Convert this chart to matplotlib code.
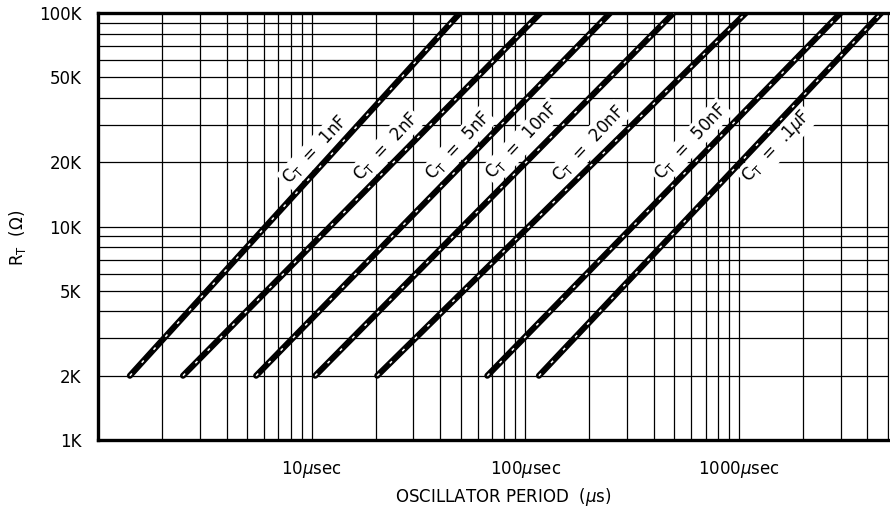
import numpy as np
import matplotlib
matplotlib.use("Agg")
import matplotlib.pyplot as plt
from matplotlib.ticker import FixedLocator, NullFormatter

# ---- data ----
resistance = [2000, 100000]                      # R_T endpoints (ohm)
cap_labels = ["1nF", "2nF", "5nF", "10nF", "20nF", "50nF", r".1$\mu$F"]
period_1nF = [1.41, 49.5]
period_2nF = [2.5, 118]
period_5nF = [5.5, 250]
period_10nF = [10.4, 495]
period_20nF = [20.3, 1080]
period_50nF = [66.5, 3000]
period_100nF = [116, 4650]
periods = [period_1nF, period_2nF, period_5nF, period_10nF,
           period_20nF, period_50nF, period_100nF]
# label anchor positions (period, R)
label_period = [10.4, 22.3, 48.5, 96.8, 197.6, 595, 1507]
label_res = [22800, 23600, 23800, 25100, 24300, 24900, 23600]

x_ticks = [10, 100, 1000]
x_tick_labels = [r"10$\mu$sec", r"100$\mu$sec", r"1000$\mu$sec"]
y_ticks = [1000, 2000, 5000, 10000, 20000, 50000, 100000]
y_tick_labels = ["1K", "2K", "5K", "10K", "20K", "50K", "100K"]

plt.rcParams['font.family'] = ['DejaVu Sans']
plt.rcParams['mathtext.fontset'] = 'dejavusans'

fig = plt.figure(figsize=(8.9, 5.19), dpi=100)
ax = fig.add_axes([98/890, 1-440/519, 790/890, 427/519])
ax.set_xscale('log')
ax.set_yscale('log')
ax.set_xlim(1, 5000)
ax.set_ylim(1000, 100000)

# grid positions
x_minor = [m * 10**e for e in range(0, 4) for m in range(2, 10) if m * 10**e <= 5000]
y_minor = [m * 10**e for e in range(3, 5) for m in range(2, 10)]
ax.xaxis.set_major_locator(FixedLocator(x_ticks))
ax.xaxis.set_minor_locator(FixedLocator(x_minor))
ax.set_xticklabels(x_tick_labels, fontsize=12)
ax.xaxis.set_minor_formatter(NullFormatter())
ax.yaxis.set_major_locator(FixedLocator(y_ticks))
ax.yaxis.set_minor_locator(FixedLocator(y_minor))
ax.set_yticklabels(y_tick_labels, fontsize=12)
ax.yaxis.set_minor_formatter(NullFormatter())
ax.tick_params(axis='both', which='both', length=0)
ax.tick_params(axis='x', pad=14)
ax.tick_params(axis='y', pad=12)
ax.grid(True, which='both', color='black', lw=0.9, zorder=1)
ax.set_axisbelow(True)

for s in ['left', 'bottom', 'top']:
    ax.spines[s].set_linewidth(2.4)
ax.spines['right'].set_linewidth(0.8)

for p in periods:
    ax.plot(p, resistance, color='black', lw=4.4, solid_capstyle='round', zorder=4)
    ax.plot(p, resistance, color='white', lw=1.1, dashes=(2.0, 9.5), zorder=5)

for lab, lp, lr in zip(cap_labels, label_period, label_res):
    ax.text(lp, lr, r"C$_\mathregular{T}$  =  " + lab, fontsize=12, rotation=47,
            rotation_mode='anchor', ha='center', va='center', zorder=3,
            bbox=dict(facecolor='white', edgecolor='none', pad=1.5))

fig.text(18/890, 1-238/519, r"R$_\mathregular{T}$  ($\Omega$)", rotation=90,
         fontsize=12, ha='center', va='center')
fig.text(503/890, 1-497/519, r"OSCILLATOR PERIOD  ($\mu$s)", fontsize=12,
         ha='center', va='center')

fig.savefig("out.png", dpi=100)
